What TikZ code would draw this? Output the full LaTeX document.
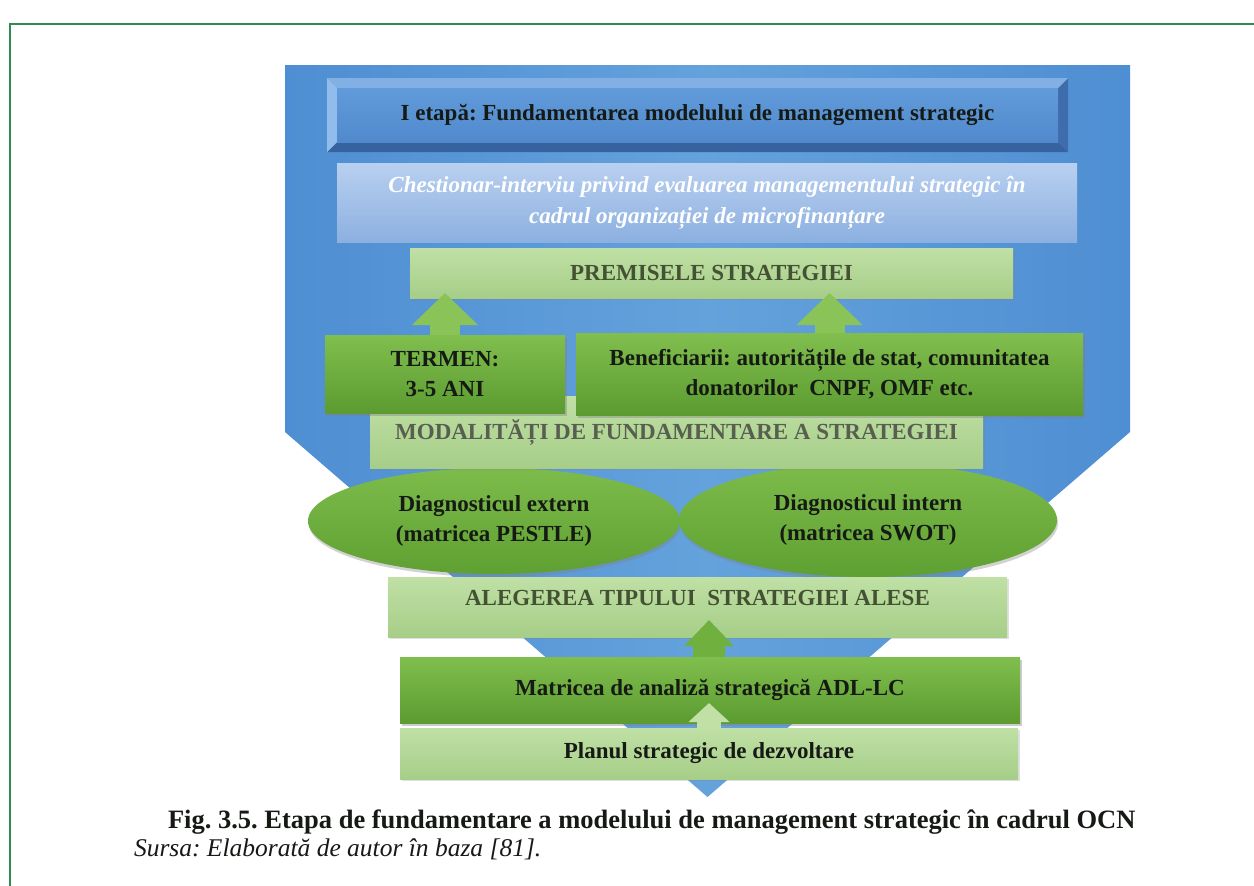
\documentclass[tikz,border=0pt]{standalone}
\usepackage{fontspec}
\setmainfont{Liberation Serif}
\usetikzlibrary{shadows,shapes.geometric,arrows.meta}
\definecolor{frameg}{RGB}{46,139,82}
\definecolor{funA}{RGB}{78,142,210}
\definecolor{funB}{RGB}{100,162,220}
\definecolor{faceA}{RGB}{98,155,218}
\definecolor{faceB}{RGB}{80,138,205}
\definecolor{bvTop}{RGB}{130,175,228}
\definecolor{bvLeft}{RGB}{145,188,235}
\definecolor{bvRight}{RGB}{62,108,172}
\definecolor{bvBot}{RGB}{55,98,160}
\definecolor{chA}{RGB}{185,208,240}
\definecolor{chB}{RGB}{140,176,224}
\definecolor{lgA}{RGB}{192,224,165}
\definecolor{lgB}{RGB}{166,206,136}
\definecolor{dgA}{RGB}{128,190,78}
\definecolor{dgB}{RGB}{92,155,48}
\definecolor{elA}{RGB}{125,188,75}
\definecolor{elB}{RGB}{95,160,50}
\definecolor{arG}{RGB}{138,196,88}
\definecolor{arM}{RGB}{112,176,62}
\definecolor{olv}{RGB}{68,82,52}
\definecolor{gry}{RGB}{88,94,80}
\definecolor{ink}{RGB}{22,26,20}
\frenchspacing
\begin{document}
\begin{tikzpicture}[x=1pt,y=-1pt,
  every node/.style={inner sep=0pt,outer sep=0pt,align=center},
  txt/.style={font=\bfseries\fontsize{23}{30}\selectfont},
  lbox/.style={rectangle,txt,top color=lgA,bottom color=lgB,text=olv,drop shadow={opacity=.25,shadow xshift=1.5pt,shadow yshift=-2pt}},
  dbox/.style={rectangle,txt,top color=dgA,bottom color=dgB,text=ink,drop shadow={opacity=.4,shadow xshift=2pt,shadow yshift=-3pt}},
  oval/.style={ellipse,txt,top color=elA,bottom color=elB,text=ink,drop shadow={opacity=.35,shadow xshift=1pt,shadow yshift=-3pt}},
  blockarrow/.style={draw=arG,line width=30pt,-{Triangle[width=64pt,length=32pt]}},
]
\useasboundingbox (0,0) rectangle (1254,886);
\fill[white] (0,0) rectangle (1254,886);
\draw[frameg,line width=2pt] (10,900) -- (10,24) -- (1270,24);

% funnel
\path[left color=funA,right color=funA,middle color=funB] (285,65) -- (1130,65) -- (1130,432) -- (707.5,797) -- (285,432) -- cycle;

% title bevel
\fill[bvBot] (327,152) -- (1068,152) -- (1058,142) -- (337,142) -- cycle;
\fill[bvRight] (1068,78) -- (1068,152) -- (1058,142) -- (1058,88) -- cycle;
\fill[bvTop] (327,78) -- (1068,78) -- (1058,88) -- (337,88) -- cycle;
\fill[bvLeft] (327,78) -- (337,88) -- (337,142) -- (327,152) -- cycle;
\node[rectangle,top color=faceA,bottom color=faceB,text=ink,txt,minimum width=721pt,minimum height=54pt] (title) at (697.5,115) {I etapă: Fundamentarea modelului de management strategic};

\node[rectangle,top color=chA,bottom color=chB,text=white,font=\bfseries\itshape\fontsize{23}{31}\selectfont,minimum width=740pt,minimum height=79pt] (chest) at (707,202.5) {Chestionar-interviu privind evaluarea managementului strategic în\\cadrul organizației de microfinanțare};

\node[lbox,minimum width=603pt,minimum height=50pt] (prem) at (711.5,273) {PREMISELE STRATEGIEI};

\node[oval,minimum width=372pt,minimum height=106pt] (ext) at (494,521) {Diagnosticul extern\\(matricea PESTLE)};
\node[oval,minimum width=378pt,minimum height=114pt] (int) at (868,520) {Diagnosticul intern\\(matricea SWOT)};

\node[lbox,text=gry,minimum width=613pt,minimum height=72pt] (mod) at (676.5,432) {MODALITĂȚI DE FUNDAMENTARE A STRATEGIEI};

\node[dbox,minimum width=240pt,minimum height=78pt] (term) at (445,374) {TERMEN:\\3-5 ANI};
\node[dbox,minimum width=507pt,minimum height=82pt] (benef) at (829.5,374) {Beneficiarii: autoritățile de stat, comunitatea\\donatorilor~~CNPF, OMF etc.};

\draw[blockarrow] (term.north) -- ([yshift=5pt]term.north |- prem.south);
\draw[blockarrow] (benef.north) -- ([yshift=5pt]benef.north |- prem.south);

\node[lbox,minimum width=619pt,minimum height=60pt,text depth=18pt] (aleg) at (697.5,607) {ALEGEREA TIPULUI~~STRATEGIEI ALESE};
\node[lbox,text=ink,minimum width=618pt,minimum height=51pt] (plan) at (709,753.5) {Planul strategic de dezvoltare};
\node[dbox,minimum width=620pt,minimum height=66pt] (matr) at (710,690) {Matricea de analiză strategică ADL-LC};

\draw[draw=arM,line width=32pt,-{Triangle[width=48pt,length=26pt]}] ([xshift=-1pt]matr.north) -- ([xshift=-1pt,yshift=17pt]matr.north |- aleg.south);
\draw[draw=lgA,line width=24pt,-{Triangle[width=40pt,length=19pt]}] (plan.north) -- ([yshift=20pt]plan.north |- matr.south);

\node[anchor=base west,font=\bfseries\fontsize{26.5}{30}\selectfont,text=ink] (cap) at (168,828) {Fig. 3.5. Etapa de fundamentare a modelului de management strategic în cadrul OCN};
\node[anchor=base west,font=\itshape\fontsize{25.5}{28}\selectfont,text=ink] (src) at (134,856) {Sursa: Elaborată de autor în baza [81].};
\end{tikzpicture}
\end{document}
